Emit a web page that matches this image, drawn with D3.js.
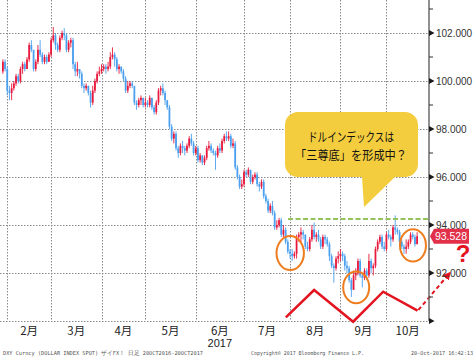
<!DOCTYPE html>
<html>
<head>
<meta charset="utf-8">
<script src="https://cdn.jsdelivr.net/npm/d3@7"></script>
<style>
  body { margin: 0; background: #fff; }
  svg { display: block; font-family: "Liberation Sans", Arial, sans-serif; }
</style>
</head>
<body>
<div id="vis"></div>
<script>
// DXY daily candles, 30-Jan-2017 .. 20-Oct-2017 (weekdays)
const firstOpen = 100.4;
const closes = [
  100.8, 100.5,
  99.6, 99.5, 99.7, 99.9, 100.2, 100.0, 100.5, 100.7, 100.5, 100.9, 101.5, 101.3, 100.5, 100.8, 101.3, 101.1, 100.8, 101.0, 100.8, 101.1,
  101.7, 101.9, 101.5, 101.3, 101.8, 102.0, 101.9, 101.3, 101.6, 101.7, 100.7, 100.4, 100.5, 100.3, 99.8, 99.7, 99.8, 99.5, 99.1, 99.6, 100.0, 100.3, 100.4,
  100.5, 100.6, 100.5, 100.6, 101.0, 101.1, 100.9, 100.5, 100.6, 100.4, 100.1, 99.6, 99.8, 99.9, 99.8, 99.1, 99.0, 99.2, 99.3, 99.0,
  99.1, 99.0, 99.3, 98.9, 98.7, 99.1, 99.6, 99.7, 99.5, 99.2, 98.9, 98.1, 97.6, 97.8, 97.2, 97.0, 97.3, 97.2, 97.1, 97.3, 97.6, 97.4, 97.0,
  97.2, 96.7, 96.9, 96.6, 96.8, 97.2, 97.3, 97.1, 97.0, 96.9, 97.2, 97.1, 97.5, 97.7, 97.6, 97.7, 97.3, 97.4, 96.4, 96.0, 95.6, 95.7,
  96.2, 96.1, 96.3, 95.8, 96.0, 96.1, 95.7, 95.6, 95.8, 95.2, 95.0, 94.6, 94.8, 94.5, 93.9, 94.0, 94.2, 93.6, 93.8, 93.3, 92.9,
  92.8, 92.7, 92.8, 93.5, 93.6, 93.7, 93.6, 93.1, 93.0, 93.4, 93.8, 93.5, 93.6, 93.4, 93.1, 93.5, 93.4, 93.2, 92.7, 92.3, 92.2, 92.6, 92.7,
  92.8, 92.7, 92.3, 92.2, 91.7, 91.3, 91.9, 92.0, 92.5, 91.9, 91.8, 92.1, 91.9, 92.5, 92.2, 92.3, 93.0, 93.3, 93.5, 93.1, 93.0,
  93.6, 93.5, 93.4, 93.9, 93.8, 93.7, 93.3, 93.1, 93.0, 93.1, 93.3, 93.6, 93.5, 93.2, 93.528
];
const highs = [
  100.9, 100.9,
  100.6, 99.8, 99.9, 100.0, 100.3, 100.3, 100.6, 100.8, 100.8, 101.0, 101.6, 101.7, 101.3, 100.9, 101.5, 101.7, 101.2, 101.1, 101.1, 101.2,
  101.8, 102.25, 102.0, 101.6, 101.9, 102.1, 102.2, 102.0, 101.7, 101.8, 101.8, 100.8, 100.8, 100.5, 100.4, 99.9, 99.9, 99.8, 99.6, 99.8, 100.1, 100.4, 100.6,
  100.7, 100.7, 100.7, 100.8, 101.2, 101.4, 101.2, 101.0, 100.7, 100.6, 100.5, 100.2, 100.0, 100.0, 100.0, 99.5, 99.2, 99.3, 99.4, 99.3,
  99.3, 99.2, 99.4, 99.3, 99.0, 99.2, 99.7, 99.8, 99.9, 99.6, 99.2, 99.0, 98.2, 97.9, 97.9, 97.3, 97.4, 97.5, 97.3, 97.4, 97.7, 97.8, 97.5,
  97.3, 97.3, 97.0, 96.9, 96.9, 97.3, 97.5, 97.4, 97.2, 97.1, 97.3, 97.4, 97.6, 97.8, 97.9, 97.9, 97.8, 97.6, 97.5, 96.5, 96.1, 95.9,
  96.3, 96.3, 96.4, 96.3, 96.1, 96.2, 96.2, 95.8, 95.9, 95.9, 95.3, 95.1, 94.9, 95.0, 94.6, 94.2, 94.3, 94.3, 94.0, 93.9, 93.4,
  93.0, 93.0, 92.9, 93.6, 93.7, 93.9, 93.8, 93.6, 93.3, 93.5, 94.0, 94.1, 93.7, 93.8, 93.5, 93.6, 93.6, 93.5, 93.3, 92.8, 92.4, 92.7, 92.9,
  93.0, 92.9, 92.8, 92.5, 92.3, 91.8, 92.1, 92.2, 92.6, 92.6, 92.0, 92.2, 92.2, 92.8, 92.6, 92.4, 93.1, 93.4, 93.6, 93.6, 93.3,
  93.7, 93.8, 93.6, 94.0, 94.4, 93.9, 93.8, 93.4, 93.2, 93.4, 93.4, 93.7, 93.7, 93.6, 93.7
];
const lows = [
  100.3, 100.4,
  99.4, 99.2, 99.2, 99.6, 99.8, 99.9, 99.9, 100.3, 100.4, 100.5, 100.8, 101.2, 100.4, 100.4, 100.7, 101.0, 100.7, 100.7, 100.7, 100.8,
  101.0, 101.6, 101.3, 101.2, 101.2, 101.7, 101.7, 101.2, 101.2, 101.4, 100.5, 100.2, 100.2, 100.1, 99.7, 99.5, 99.6, 99.4, 98.9, 99.0, 99.5, 99.9, 100.2,
  100.3, 100.4, 100.3, 100.4, 100.5, 100.9, 100.6, 100.4, 100.3, 100.3, 100.0, 99.5, 99.5, 99.7, 99.7, 99.0, 98.8, 98.9, 99.0, 98.9,
  98.9, 98.9, 98.9, 98.8, 98.6, 98.6, 99.0, 99.4, 99.4, 99.0, 98.8, 98.0, 97.5, 97.4, 97.1, 96.8, 96.9, 97.0, 96.9, 97.0, 97.2, 97.3, 96.9,
  96.9, 96.6, 96.6, 96.5, 96.5, 96.7, 97.1, 97.0, 96.9, 96.3, 96.8, 97.0, 97.0, 97.4, 97.5, 97.5, 97.2, 97.2, 96.3, 95.9, 95.5, 95.5,
  95.6, 96.0, 96.0, 95.7, 95.7, 95.9, 95.6, 95.4, 95.5, 95.1, 94.9, 94.5, 94.5, 94.4, 93.8, 93.8, 93.9, 93.5, 93.5, 93.2, 92.8,
  92.6, 92.5, 92.6, 92.6, 93.3, 93.3, 93.4, 93.0, 92.9, 92.9, 93.3, 93.4, 93.3, 93.3, 93.0, 93.0, 93.2, 93.1, 92.5, 92.2, 91.6, 92.1, 92.4,
  92.5, 92.5, 92.1, 92.0, 91.6, 91.0, 91.3, 91.7, 91.9, 91.8, 91.4, 91.7, 91.7, 91.8, 92.0, 91.9, 92.2, 92.9, 93.2, 93.0, 92.9,
  92.9, 93.4, 93.1, 93.3, 93.6, 93.6, 93.2, 93.0, 92.8, 92.8, 93.0, 93.2, 93.4, 93.1, 93.2
];

const majorTicks = [90, 92, 94, 96, 98, 100, 102];
const minorTicks = [91, 93, 95, 97, 99, 101, 103];
const labelTicks = [92, 94, 96, 98, 100, 102];
const monthNames = ["2月", "3月", "4月", "5月", "6月", "7月", "8月", "9月", "10月"];
const lastPrice = 93.528;
const neckline = 94.25;
// W shape (index, value) and circled lows
const wPoints = [[129.1, 90.15], [142.0, 91.29], [159.8, 89.97], [173.5, 91.22], [189.2, 90.43]];
const arrowPoints = [[189.6, 90.46], [203.9, 92.0]];
const lowCircles = [[131.1, 92.83, 13.7, 17], [161.2, 91.4, 13, 15.8], [187.1, 93.15, 13, 16.2]];
const bubbleLines = ["ドルインデックスは", "「三尊底」を形成中？"];

const WIDTH = 476, HEIGHT = 362;
const axisX = 429;

const svg = d3.select("#vis").append("svg")
  .attr("width", WIDTH)
  .attr("height", HEIGHT);

const n = closes.length;
const opens = [firstOpen].concat(closes.slice(0, -1));
const dates = d3.timeDay.range(new Date(2017, 0, 30), new Date(2017, 9, 21))
  .filter(d => d.getDay() !== 0 && d.getDay() !== 6);
const candles = closes.map((c, i) => ({ date: dates[i], o: opens[i], h: highs[i], l: lows[i], c: c }));

const x = d3.scaleBand().domain(d3.range(n)).range([2, 418]).paddingInner(0.2);
const bw = x.bandwidth();
const xi = d3.scaleLinear().domain([0, n - 1]).range([x(0) + bw / 2, x(n - 1) + bw / 2]);
const y = d3.scaleLinear().domain([90, 102]).range([321, 33]);

// month starts
const monthStarts = [];
candles.forEach((d, i) => {
  if (i > 0 && d.date.getMonth() !== candles[i - 1].date.getMonth()) monthStarts.push(i);
});

// grid
const grid = svg.append("g").attr("stroke", "#8a8a8a").attr("stroke-dasharray", "1.5,1.5").attr("stroke-width", 1);
grid.selectAll(".hg").data(majorTicks).join("line")
  .attr("x1", 0).attr("x2", axisX)
  .attr("y1", d => Math.round(y(d)) + 0.5).attr("y2", d => Math.round(y(d)) + 0.5);
grid.selectAll(".vg").data(monthStarts).join("line")
  .attr("x1", d => Math.round(xi(d)) + 0.5).attr("x2", d => Math.round(xi(d)) + 0.5)
  .attr("y1", 0).attr("y2", y(90));

// candles
const up = "#e8193c", down = "#4a9fee";
const cg = svg.append("g");
cg.selectAll("line").data(candles).join("line")
  .attr("x1", (d, i) => xi(i)).attr("x2", (d, i) => xi(i))
  .attr("y1", d => y(d.h)).attr("y2", d => y(d.l))
  .attr("stroke", d => d.c >= d.o ? up : down)
  .attr("stroke-width", 0.9);
cg.selectAll("rect").data(candles).join("rect")
  .attr("x", (d, i) => x(i))
  .attr("width", bw)
  .attr("y", d => y(Math.max(d.o, d.c)))
  .attr("height", d => Math.max(1, Math.abs(y(d.o) - y(d.c))))
  .attr("fill", d => d.c >= d.o ? up : down);

// neckline
svg.append("line")
  .attr("x1", xi(130.1)).attr("x2", axisX)
  .attr("y1", y(neckline)).attr("y2", y(neckline))
  .attr("stroke", "#92c45a").attr("stroke-width", 2)
  .attr("stroke-dasharray", "5,2.5");

// circles
svg.selectAll(".lowc").data(lowCircles).join("ellipse")
  .attr("cx", d => xi(d[0])).attr("cy", d => y(d[1]))
  .attr("rx", d => d[2]).attr("ry", d => d[3])
  .attr("fill", "none").attr("stroke", "#ee7d1f").attr("stroke-width", 2);

// W line
const line = d3.line().x(d => xi(d[0])).y(d => y(d[1]));
svg.append("path").attr("d", line(wPoints))
  .attr("fill", "none").attr("stroke", "#e3141f").attr("stroke-width", 2.5)
  .attr("stroke-linejoin", "miter");

// dashed arrow
svg.append("defs").append("marker")
  .attr("id", "arr").attr("viewBox", "0 0 10 10").attr("refX", 8).attr("refY", 5)
  .attr("markerWidth", 4).attr("markerHeight", 4).attr("orient", "auto")
  .append("path").attr("d", "M0,0 L10,5 L0,10 Z").attr("fill", "#e3141f");
svg.append("path").attr("d", line(arrowPoints))
  .attr("fill", "none").attr("stroke", "#e3141f").attr("stroke-width", 2)
  .attr("stroke-dasharray", "4,3")
  .attr("marker-end", "url(#arr)");

svg.append("text").attr("x", 463).attr("y", 262)
  .attr("text-anchor", "middle")
  .attr("font-size", 24).attr("font-weight", "bold")
  .attr("fill", "#e3141f").text("?");

// speech bubble
svg.append("path")
  .attr("d", "M298,112 H405 A13,13 0 0 1 418,125 V164 A13,13 0 0 1 405,177 H395 L364,207 L362,177 H298 A13,13 0 0 1 285,164 V125 A13,13 0 0 1 298,112 Z")
  .attr("fill", "#f4cd3e");
svg.selectAll(".bt").data(bubbleLines).join("text")
  .attr("x", 351).attr("y", (d, i) => 142 + i * 17.5)
  .attr("text-anchor", "middle")
  .attr("font-family", "'Noto Sans CJK JP', sans-serif")
  .attr("font-size", 12.5)
  .attr("fill", "#111")
  .attr("textLength", (d, i) => i === 0 ? 86 : 112)
  .attr("lengthAdjust", "spacingAndGlyphs")
  .text(d => d);

// y axis
svg.append("line").attr("x1", axisX).attr("x2", axisX).attr("y1", 0).attr("y2", y(90))
  .attr("stroke", "#6b6b6b").attr("stroke-width", 1.5);
svg.selectAll(".tri").data(majorTicks).join("path")
  .attr("d", d => `M${axisX},${y(d) - 3} L${axisX + 5.5},${y(d)} L${axisX},${y(d) + 3} Z`)
  .attr("fill", "#1a1a1a");
svg.selectAll(".mt").data(minorTicks).join("line")
  .attr("x1", axisX).attr("x2", axisX + 4)
  .attr("y1", d => y(d)).attr("y2", d => y(d))
  .attr("stroke", "#333").attr("stroke-width", 1);

const yAxis = svg.append("g")
  .attr("transform", `translate(${axisX + 6},0)`)
  .call(d3.axisRight(y).tickValues(labelTicks).tickFormat(d3.format(".3f")).tickSize(0).tickPadding(1));
yAxis.select(".domain").remove();
yAxis.selectAll("text")
  .attr("font-family", "'Liberation Sans', Arial, sans-serif")
  .attr("font-size", 10)
  .attr("fill", "#333");

// last price tag
const py = y(lastPrice);
svg.append("path")
  .attr("d", `M${axisX + 1},${py} L${axisX + 5},${py - 7.5} H469 V${py + 7.5} H${axisX + 5} Z`)
  .attr("fill", "#e2304a");
svg.append("text").attr("x", 451).attr("y", py + 3.8)
  .attr("text-anchor", "middle").attr("font-size", 10.5).attr("fill", "#fff")
  .text(d3.format(".3f")(lastPrice));

// month labels
const bounds = monthStarts.map(i => xi(i)).concat([axisX]);
svg.selectAll(".ml").data(monthNames).join("text")
  .attr("x", (d, k) => (bounds[k] + bounds[k + 1]) / 2)
  .attr("y", 335)
  .attr("text-anchor", "middle")
  .attr("font-family", "'Noto Sans CJK JP', sans-serif")
  .attr("font-size", 11.5)
  .attr("fill", "#222")
  .text(d => d);
svg.append("text")
  .attr("x", (bounds[4] + bounds[5]) / 2).attr("y", 347)
  .attr("text-anchor", "middle").attr("font-size", 11).attr("fill", "#222")
  .text("2017");

// footer
const foot = svg.append("g").attr("font-family", "'DejaVu Sans Mono', monospace")
  .attr("font-size", 5.5).attr("fill", "#555");
foot.append("text").attr("x", 3).attr("y", 355).attr("textLength", 200).attr("lengthAdjust", "spacingAndGlyphs")
  .text("DXY Curncy (DOLLAR INDEX SPOT) ザイFX！  日足 20OCT2016-20OCT2017");
foot.append("text").attr("x", 251).attr("y", 355).attr("textLength", 113).attr("lengthAdjust", "spacingAndGlyphs")
  .text("Copyright© 2017 Bloomberg Finance L.P.");
foot.append("text").attr("x", 411).attr("y", 355).attr("textLength", 62).attr("lengthAdjust", "spacingAndGlyphs")
  .text("20-Oct-2017 16:42:13");
</script>
</body>
</html>
